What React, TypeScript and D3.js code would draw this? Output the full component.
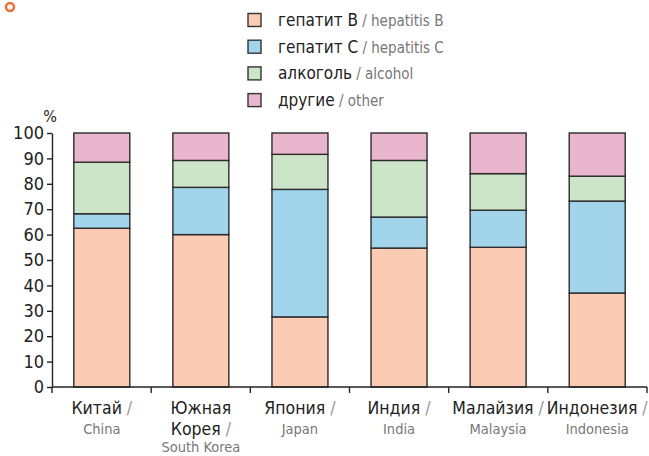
import React, { useEffect, useRef } from "react";
import * as d3 from "d3";

const countriesRu = [["Китай /"], ["Южная", "Корея /"], ["Япония /"], ["Индия /"], ["Малайзия /"], ["Индонезия /"]];
const countriesEn = ["China", "South Korea", "Japan", "India", "Malaysia", "Indonesia"];
const seriesRu = ["гепатит B", "гепатит C", "алкоголь", "другие"];
const seriesEn = ["hepatitis B", "hepatitis C", "alcohol", "other"];
const colors = ["#fbcbb4", "#a2d4ec", "#cce5c9", "#e9b6cd"];

const hepB = [62.5, 60, 27.6, 54.7, 55, 37];
const hepC = [5.7, 18.6, 50.2, 12.2, 14.6, 36.2];
const alcohol = [20.3, 10.6, 13.8, 22.3, 14.4, 9.8];
const other = [11.5, 10.8, 8.4, 10.8, 16, 17];

const yTicks = [0, 10, 20, 30, 40, 50, 60, 70, 80, 90, 100];

const FONT = "'DejaVu Sans Condensed', 'DejaVu Sans', sans-serif";

export default function App() {
  const ref = useRef<SVGSVGElement>(null);

  useEffect(() => {
    const svg = d3.select(ref.current);
    svg.selectAll("*").remove();

    const x = d3.scaleBand<number>().domain(d3.range(6)).range([52, 647]).paddingInner(0.435).paddingOuter(0.22);
    const xBound = d3.scaleLinear().domain([0, 6]).range([52, 647]);
    const y = d3.scaleLinear().domain([0, 100]).range([387, 133]);

    // orange circle marker
    svg.append("circle").attr("cx", 10).attr("cy", 7).attr("r", 4)
      .attr("fill", "none").attr("stroke", "#f26b36").attr("stroke-width", 2.5);

    // stacked bars
    const rows = countriesEn.map((c, i) => ({ i, b: hepB[i], c: hepC[i], a: alcohol[i], o: other[i] }));
    const stack = d3.stack<any>().keys(["b", "c", "a", "o"])(rows);
    stack.forEach((layer, k) => {
      svg.append("g").selectAll("rect").data(layer).enter().append("rect")
        .attr("x", (d: any) => x(d.data.i)!)
        .attr("width", x.bandwidth())
        .attr("y", (d: any) => y(Math.min(d[1], 100)))
        .attr("height", (d: any) => y(d[0]) - y(Math.min(d[1], 100)))
        .attr("fill", colors[k])
        .attr("stroke", "#2b2b2b")
        .attr("stroke-width", 1.4);
    });

    // y axis
    const yAxis = svg.append("g").attr("transform", "translate(52,0)")
      .call(d3.axisLeft(y).tickValues(yTicks).tickSize(5).tickSizeOuter(0).tickPadding(3));
    yAxis.select(".domain").attr("stroke", "#222").attr("stroke-width", 1.4);
    yAxis.selectAll(".tick line").attr("stroke", "#222").attr("stroke-width", 1.4);
    yAxis.selectAll(".tick text").attr("font-size", 18).attr("font-family", FONT).attr("fill", "#222");

    svg.append("text").attr("x", 50).attr("y", 122).attr("font-size", 16).attr("font-family", FONT)
      .attr("fill", "#222").attr("text-anchor", "middle").text("%");

    // x axis
    svg.append("line").attr("x1", 52).attr("x2", 647).attr("y1", y(0)).attr("y2", y(0))
      .attr("stroke", "#222").attr("stroke-width", 1.4);
    svg.append("g").selectAll("line").data(d3.range(7)).enter().append("line")
      .attr("x1", (d) => xBound(d)).attr("x2", (d) => xBound(d))
      .attr("y1", y(0)).attr("y2", y(0) + 6)
      .attr("stroke", "#222").attr("stroke-width", 1.4);

    // x labels
    countriesEn.forEach((en, i) => {
      const cx = x(i)! + x.bandwidth() / 2;
      const ru = countriesRu[i];
      ru.forEach((line, j) => {
        const t = svg.append("text").attr("x", cx).attr("y", 414 + j * 21).attr("text-anchor", "middle")
          .attr("font-family", FONT).attr("font-size", 17.5);
        const parts = line.split(" /");
        t.append("tspan").attr("fill", "#222").text(parts[0]);
        if (line.endsWith("/")) t.append("tspan").attr("fill", "#999").text(" /");
      });
      svg.append("text").attr("x", cx).attr("y", 434 + (ru.length - 1) * 18).attr("text-anchor", "middle")
        .attr("font-family", FONT).attr("font-size", 14.5).attr("fill", "#777").text(en);
    });

    // legend
    seriesRu.forEach((s, i) => {
      const yy = 20 + i * 26.7;
      svg.append("rect").attr("x", 248).attr("y", yy - 6.5).attr("width", 13).attr("height", 13)
        .attr("fill", colors[i]).attr("stroke", "#333").attr("stroke-width", 1.4);
      const t = svg.append("text").attr("x", 278).attr("y", yy + 6).attr("font-family", FONT);
      t.append("tspan").attr("font-size", 17).attr("fill", "#222").text(s);
      t.append("tspan").attr("font-size", 15).attr("fill", "#777").text(" / " + seriesEn[i]);
    });
  }, []);

  return (
    <svg ref={ref} width={649} height={456} style={{ position: "absolute", left: 0, top: 0, background: "#fff" }} />
  );
}
